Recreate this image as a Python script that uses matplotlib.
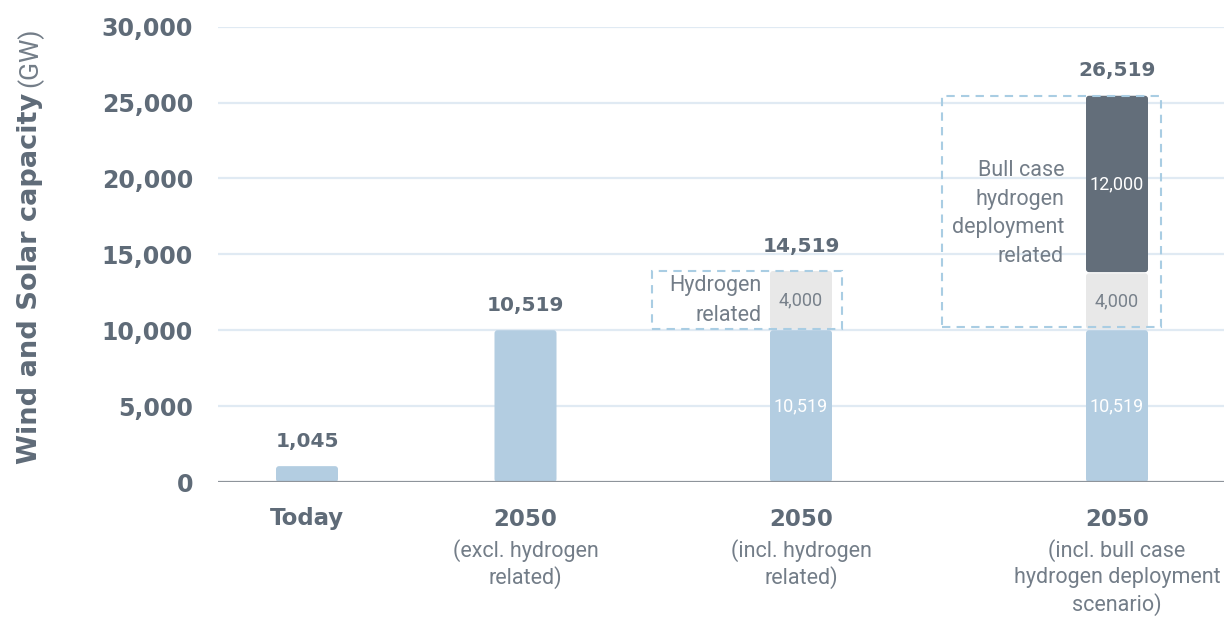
import matplotlib
matplotlib.use("Agg")
import matplotlib.pyplot as plt
from matplotlib.patches import Rectangle, FancyBboxPatch
from matplotlib.ticker import FuncFormatter

# ---------------- data ----------------
categories = ["Today", "2050", "2050", "2050"]
subtitles = ["", "(excl. hydrogen\nrelated)", "(incl. hydrogen\nrelated)",
             "(incl. bull case\nhydrogen deployment\nscenario)"]
# segment heights as drawn in the picture (GW)
base_seg = [1045, 10000, 10000, 10000]
hydrogen_seg = [0, 0, 3900, 3750]
bull_seg = [0, 0, 0, 11700]
total_labels = ["1,045", "10,519", "14,519", "26,519"]
base_labels = ["", "", "10,519", "10,519"]
hydrogen_labels = ["", "", "4,000", "4,000"]
bull_labels = ["", "", "", "12,000"]
y_ticks = [0, 5000, 10000, 15000, 20000, 25000, 30000]
note_h2 = "Hydrogen\nrelated"
note_bull = "Bull case\nhydrogen\ndeployment\nrelated"

# ---------------- layout ----------------
xpos = [89, 307.5, 583, 899]   # bar centres (px from axis left)
bar_w = 62
box3 = (433.7, 10060, 190.6, 3860)     # dashed box around hydrogen segment
box4 = (723.7, 10190, 219.0, 15260)    # dashed box around bull case segments

TXT = "#5f6b78"
LIGHT = "#737d88"
BLUE = "#b3cde1"
GREY = "#e8e8e8"
DARK = "#636e7a"
GRID = "#e0eaf3"
BOX = "#a9cde3"
LIGHTFONT = dict(family="Roboto", fontweight="normal")

fig = plt.figure(figsize=(12.24, 6.17), dpi=100)
ax = fig.add_axes([218 / 1224, (617 - 482) / 617, 1 - 218 / 1224, (482 - 26.7) / 617])
ax.set_xlim(0, 1006)
ax.set_ylim(0, 30000)
ypp = 30000 / (482 - 26.7)   # data units per pixel

for s in ax.spines.values():
    s.set_visible(False)
ax.set_xticks([])
ax.set_yticks(y_ticks)
ax.yaxis.set_major_formatter(FuncFormatter(lambda v, p: f"{int(v):,}"))
ax.tick_params(axis="y", length=0, pad=18, labelsize=17, labelcolor=TXT)
for lab in ax.get_yticklabels():
    lab.set_fontfamily("DejaVu Sans")
    lab.set_fontweight("bold")
for t in y_ticks[1:]:
    ax.axhline(t, color=GRID, lw=1.6, zorder=0)
ax.axhline(0, color="#8e949b", lw=1.6, zorder=3)

bottom2 = list(base_seg)
bottom3 = [b + h for b, h in zip(base_seg, hydrogen_seg)]
b1 = ax.bar(xpos, base_seg, width=bar_w, color=BLUE, zorder=2)
b2 = ax.bar(xpos, hydrogen_seg, width=bar_w, bottom=bottom2, color=GREY, zorder=2)
b3 = ax.bar(xpos, bull_seg, width=bar_w, bottom=bottom3, color=DARK, zorder=2)

# round the corners of each drawn segment (geometry taken from the bars)
for cont in (b1, b2, b3):
    for r in cont.patches:
        x, y, w, h = r.get_x(), r.get_y(), r.get_width(), r.get_height()
        col = r.get_facecolor()
        r.remove()
        if h <= 0:
            continue
        gap = 1.2 * ypp if y > 0 else 0
        ax.add_patch(FancyBboxPatch((x, y + gap), w, h - gap,
                                    boxstyle="round,pad=0,rounding_size=3",
                                    mutation_aspect=ypp, facecolor=col,
                                    edgecolor="none", zorder=2))

# totals
for x, b, h, u, lab in zip(xpos, base_seg, hydrogen_seg, bull_seg, total_labels):
    ax.annotate(lab, (x, b + h + u), xytext=(0, 25), textcoords="offset pixels",
                ha="center", va="center", fontsize=14.5, fontweight="bold",
                family="DejaVu Sans", color=TXT, zorder=5)

# segment labels
for x, b, h, u, lb, lh, lu in zip(xpos, base_seg, hydrogen_seg, bull_seg,
                                  base_labels, hydrogen_labels, bull_labels):
    if lb:
        ax.text(x, b / 2, lb, ha="center", va="center", fontsize=13,
                color="white", zorder=5, **LIGHTFONT)
    if lh:
        ax.text(x, b + h / 2, lh, ha="center", va="center", fontsize=13,
                color="#78818b", zorder=5, **LIGHTFONT)
    if lu:
        ax.text(x, b + h + u / 2, lu, ha="center", va="center", fontsize=13,
                color="white", zorder=5, **LIGHTFONT)

# dashed boxes
for bx in (box3, box4):
    ax.add_patch(Rectangle((bx[0], bx[1]), bx[2], bx[3], fill=False,
                           edgecolor=BOX, lw=1.5, ls=(0, (4, 3)), zorder=4))


def lines_at(text, xdata, ycenter_px, pitch_px, **kw):
    """place multi-line text line by line, centred at pixel row ycenter_px"""
    parts = text.split("\n")
    n = len(parts)
    for i, line in enumerate(parts):
        ypx = ycenter_px + (i - (n - 1) / 2) * pitch_px
        ax.annotate(line, (xdata, 0), xycoords=("data", "axes fraction"),
                    xytext=(0, -(ypx - 482)), textcoords="offset pixels",
                    va="center", **kw)


# box annotations
lines_at(note_h2, 762 - 218, 300.5, 30, ha="right", fontsize=15.5, color=LIGHT,
         zorder=5, **LIGHTFONT)
lines_at(note_bull, 1064 - 218, 213.5, 29, ha="right", fontsize=15.5, color=LIGHT,
         zorder=5, **LIGHTFONT)

# x category labels
for x, c, s in zip(xpos, categories, subtitles):
    ax.annotate(c, (x, 0), xycoords=("data", "axes fraction"), xytext=(0, -37),
                textcoords="offset pixels", ha="center", va="center",
                fontsize=16.5, fontweight="bold", family="DejaVu Sans", color=TXT)
    if s:
        n = len(s.split("\n"))
        lines_at(s, x, 551 + (n - 1) * 27 / 2, 27, ha="center", fontsize=15.5,
                 color=LIGHT, **LIGHTFONT)

# y axis label (bold part + light unit), fitted to the reference length
base_x = 37 / 1224
t1 = fig.text(base_x, (617 - 464) / 617, "Wind and Solar capacity", rotation=90,
              rotation_mode="anchor", ha="left", va="baseline", fontsize=20,
              fontweight="bold", family="DejaVu Sans", color=TXT)
fig.canvas.draw()
ext = t1.get_window_extent()
t1.set_fontsize(20 * 372 / ext.height)
fig.canvas.draw()
ext = t1.get_window_extent()
fig.text(base_x, (ext.y1 + 6) / 617, "(GW)", rotation=90, rotation_mode="anchor",
         ha="left", va="baseline", fontsize=19, color=LIGHT, **LIGHTFONT)

fig.savefig("out.png", dpi=100)
